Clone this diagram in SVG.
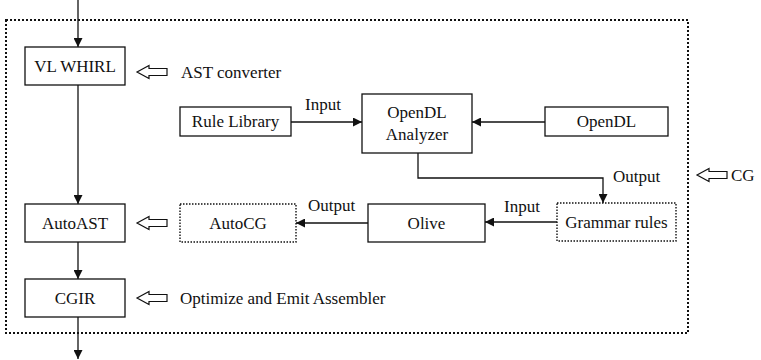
<svg xmlns="http://www.w3.org/2000/svg" width="761" height="360" viewBox="0 0 761 360">
<style>
text{font-family:"Liberation Serif","Times New Roman",serif;font-size:17px;fill:#111}
.box{fill:#fff;stroke:#111;stroke-width:1.3}
.dbox{fill:#fff;stroke:#111;stroke-width:1.4;stroke-dasharray:1.5 1.5}
.ln{fill:none;stroke:#111;stroke-width:1.3}
.hol{fill:#fff;stroke:#111;stroke-width:1.2}
.c{text-anchor:middle}
</style>
<defs>
<marker id="ah" viewBox="0 0 10 10" refX="10" refY="5" markerWidth="9" markerHeight="9" markerUnits="userSpaceOnUse" orient="auto"><path d="M0,0 L10,5 L0,10 Z" fill="#111"/></marker>
<path id="hollow" d="M0,0 L12,-6.5 L12,-3.5 L30,-3.5 L30,3.5 L12,3.5 L12,6.5 Z"/>
</defs>
<rect x="6" y="20" width="682" height="313" fill="none" stroke="#111" stroke-width="2" stroke-dasharray="2 2"/>
<g id="connectors">
<line class="ln" x1="78" y1="0" x2="78" y2="47" marker-end="url(#ah)"/>
<line class="ln" x1="78" y1="85" x2="78" y2="204" marker-end="url(#ah)"/>
<line class="ln" x1="78" y1="242" x2="78" y2="279" marker-end="url(#ah)"/>
<line class="ln" x1="78" y1="317" x2="78" y2="359" marker-end="url(#ah)"/>
<line class="ln" x1="291" y1="122" x2="362" y2="122" marker-end="url(#ah)"/>
<line class="ln" x1="545" y1="122" x2="472" y2="122" marker-end="url(#ah)"/>
<polyline class="ln" points="418,153 418,178 603,178 603,203" marker-end="url(#ah)"/>
<line class="ln" x1="557" y1="222" x2="485" y2="222" marker-end="url(#ah)"/>
<line class="ln" x1="368" y1="223" x2="296" y2="223" marker-end="url(#ah)"/>
<use href="#hollow" class="hol" x="137" y="72"/>
<use href="#hollow" class="hol" x="137" y="223"/>
<use href="#hollow" class="hol" x="137" y="298"/>
<use href="#hollow" class="hol" x="697" y="175"/>
<text x="305" y="110">Input</text>
<text x="613" y="182">Output</text>
<text x="504" y="212">Input</text>
<text x="308" y="211">Output</text>
<text x="181" y="78">AST converter</text>
<text x="180" y="304">Optimize and Emit Assembler</text>
<text x="731" y="181">CG</text>
</g>
<g id="vlwhirl"><rect class="box" x="25" y="47" width="100" height="38"/><text class="c" x="75" y="72">VL WHIRL</text></g>
<g id="autoast"><rect class="box" x="25" y="204" width="100" height="38"/><text class="c" x="75" y="229">AutoAST</text></g>
<g id="cgir"><rect class="box" x="25" y="279" width="100" height="38"/><text class="c" x="75" y="304">CGIR</text></g>
<g id="rulelib"><rect class="box" x="180" y="107" width="111" height="29"/><text class="c" x="235.5" y="127">Rule Library</text></g>
<g id="analyzer"><rect class="box" x="362" y="94" width="110" height="59"/><text class="c" x="417" y="118">OpenDL</text><text class="c" x="417" y="140">Analyzer</text></g>
<g id="opendl"><rect class="box" x="545" y="107" width="123" height="29"/><text class="c" x="606.5" y="127">OpenDL</text></g>
<g id="grammar"><rect class="dbox" x="557" y="203" width="119" height="38"/><text class="c" x="616.5" y="228">Grammar rules</text></g>
<g id="olive"><rect class="box" x="368" y="204" width="117" height="38"/><text class="c" x="426.5" y="229">Olive</text></g>
<g id="autocg"><rect class="dbox" x="180" y="204" width="116" height="38"/><text class="c" x="238" y="229">AutoCG</text></g>
</svg>
